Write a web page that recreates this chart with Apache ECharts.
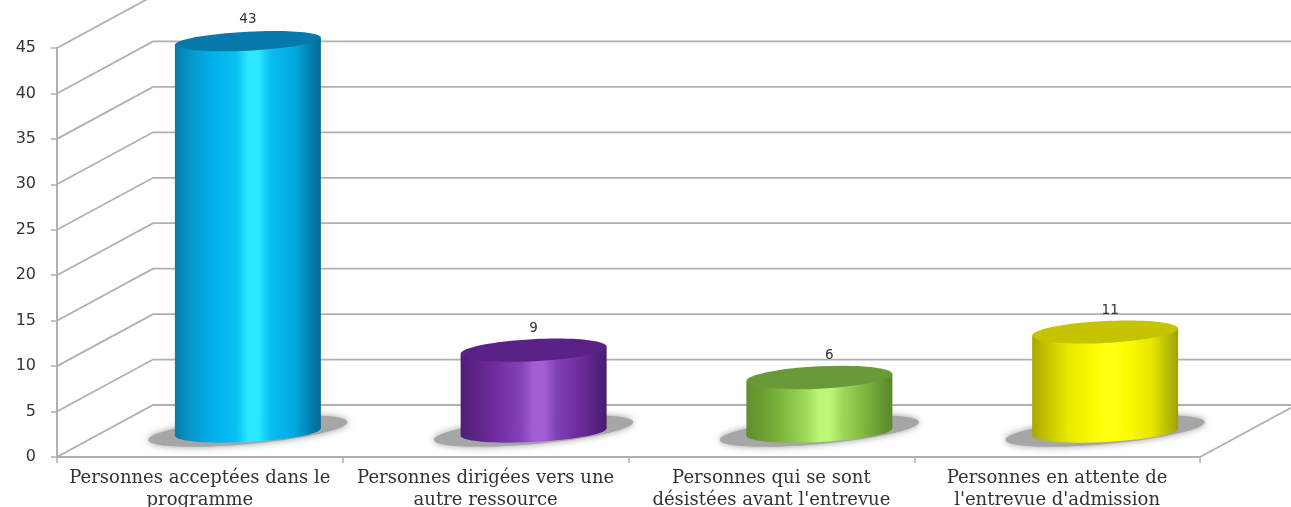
<!DOCTYPE html>
<html><head><meta charset="utf-8">
<style>html,body{margin:0;padding:0;background:#fff}#c{width:1291px;height:507px}</style>
<script src="https://cdn.jsdelivr.net/npm/echarts@6/dist/echarts.min.js"></script>
</head><body><div id="c"></div>
<script>
const categories = ["Personnes acceptées dans le\nprogramme","Personnes dirigées vers une\nautre ressource","Personnes qui se sont\ndésistées avant l'entrevue","Personnes en attente de\nl'entrevue d'admission"];
const values = [43, 9, 6, 11];
const yTicks = [0,5,10,15,20,25,30,35,40,45];

const palette = [
 {top:'#0779a8',stops:[[0,'#0a7ba8'],[.1,'#0595c9'],[.25,'#03aeec'],[.42,'#0ac0f2'],[.5,'#2ae8ff'],[.57,'#2ae8ff'],[.66,'#08bdf0'],[.82,'#03a8e0'],[.95,'#0478a5'],[1,'#066a92']]},
 {top:'#5a2284',stops:[[0,'#4f1f78'],[.1,'#5c2488'],[.25,'#6f2da0'],[.42,'#8644bc'],[.5,'#a35ed6'],[.57,'#a35ed6'],[.66,'#8040b6'],[.82,'#6c2c9c'],[.95,'#52207c'],[1,'#4a1c70']]},
 {top:'#6a9a38',stops:[[0,'#5f8f2c'],[.1,'#6a9c32'],[.25,'#7fb83e'],[.42,'#a2dc5c'],[.5,'#bdf777'],[.57,'#bdf777'],[.66,'#9ed858'],[.82,'#7cb43c'],[.95,'#62922e'],[1,'#5a8828']]},
 {top:'#c4c400',stops:[[0,'#a8a800'],[.1,'#c4c400'],[.25,'#eaea00'],[.42,'#fbfb00'],[.5,'#ffff10'],[.57,'#ffff10'],[.66,'#fbfb00'],[.82,'#e6e600'],[.95,'#b4b400'],[1,'#a0a000']]}
];
const DX=96, DY=-52, GRAY='#b0b0b0';
const grad=s=>({type:'linear',x:0,y:0,x2:1,y2:0,colorStops:s.map(a=>({offset:a[0],color:a[1]}))});

function wall(params,api){
  const v=api.value(1), cs=params.coordSys, y=api.coord([0,v])[1], x=cs.x;
  const kids=[{type:'polyline',shape:{points:[[x,y],[x+DX,y+DY],[api.getWidth()+5,y+DY]]},style:{fill:'none',stroke:GRAY,lineWidth:1.8}}];
  if(v===0) kids.push({type:'line',shape:{x1:x+cs.width,y1:y,x2:x+cs.width+DX,y2:y+DY},style:{stroke:GRAY,lineWidth:1.8}});
  return {type:'group',children:kids};
}
function bar(params,api){
  const i=api.value(0), v=api.value(1), c=api.coord([i,v]), b=api.coord([i,0]);
  const cx=c[0]+DX/2, ty=c[1]+DY/2+1, by=b[1]+DY/2+1, rx=73, rot=0.05, ry=11.5-v/43*2, p=palette[i];
  const tilt=rx*Math.sin(rot);
  const nudge=i===2?10:(i===3?5:0);
  return {type:'group',children:[
    {type:'ellipse',shape:{cx:0,cy:0,rx:100,ry:13},x:cx,y:by-1,rotation:0.09,
      style:{fill:'#a6a6a6',shadowColor:'rgba(140,140,140,.85)',shadowBlur:7}},
    {type:'polygon',shape:{points:[[cx-rx,ty+tilt],[cx+rx,ty-tilt],[cx+rx,by-tilt],[cx-rx,by+tilt]]},style:{fill:grad(p.stops)}},
    {type:'ellipse',shape:{cx:0,cy:0,rx:rx,ry:10},x:cx,y:by,rotation:rot,style:{fill:grad(p.stops)}},
    {type:'ellipse',shape:{cx:0,cy:0,rx:rx,ry:ry},x:cx,y:ty,rotation:rot,style:{fill:p.top}},
    {type:'text',x:cx+nudge,y:ty-22,style:{text:String(v),fill:'#333',font:'13.5px "DejaVu Sans"',align:'center',verticalAlign:'middle'}}
  ]};
}
const chart=echarts.init(document.getElementById('c'),null,{renderer:'canvas'});
chart.setOption({
  animation:false,backgroundColor:'#fff',
  grid:{left:57,right:91,top:48,bottom:50,containLabel:false,outerBoundsMode:'none'},
  xAxis:{type:'category',data:categories,boundaryGap:true,
    axisLine:{lineStyle:{color:GRAY,width:2}},
    axisTick:{show:true,alignWithLabel:false,length:6,lineStyle:{color:GRAY,width:1.5}},
    axisLabel:{interval:0,color:'#333',fontFamily:'DejaVu Serif',fontSize:18,lineHeight:22,margin:10,hideOverlap:false}},
  yAxis:{type:'value',min:0,max:45,interval:5,
    axisLine:{show:true,lineStyle:{color:GRAY,width:2}},
    axisTick:{show:true,length:6,lineStyle:{color:GRAY,width:1.5}},
    splitLine:{show:false},
    axisLabel:{color:'#333',fontFamily:'DejaVu Sans',fontSize:16,margin:21}},
  series:[
    {type:'custom',z:1,silent:true,renderItem:wall,encode:{x:0,y:1},data:yTicks.map(t=>[0,t])},
    {type:'custom',z:2,silent:true,renderItem:bar,encode:{x:0,y:1},data:values.map((v,i)=>[i,v])}
  ]
});
</script></body></html>
